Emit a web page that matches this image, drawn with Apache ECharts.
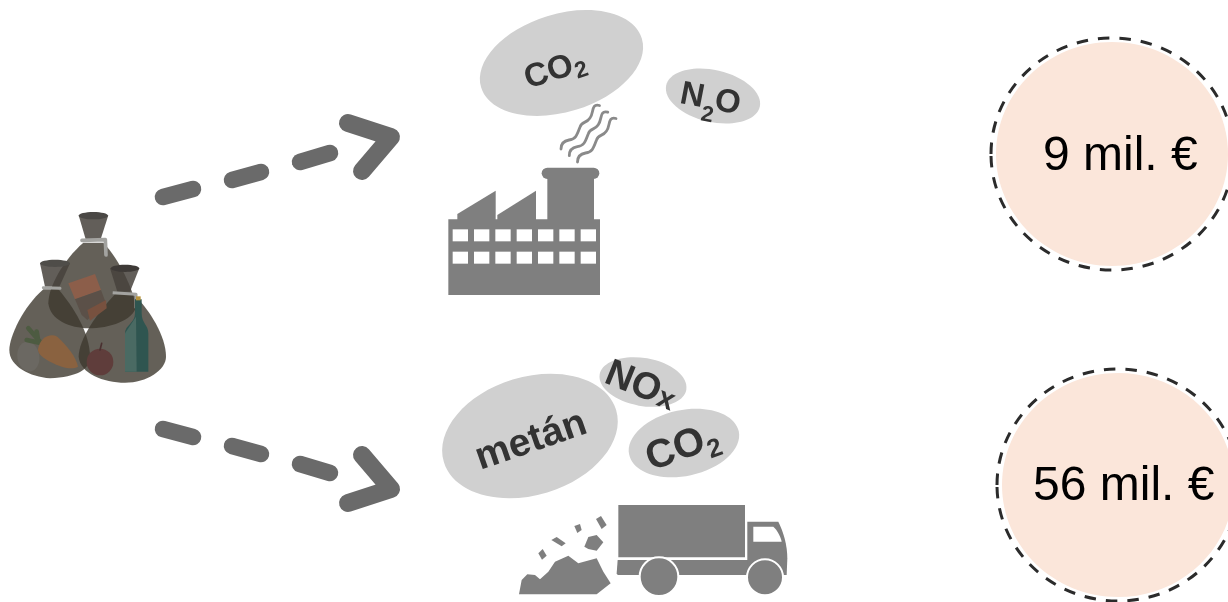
<!DOCTYPE html>
<html><head><meta charset="utf-8">
<style>html,body{margin:0;padding:0;background:#fff}#c{width:1228px;height:602px}</style>
<script src="https://cdn.jsdelivr.net/npm/echarts@6/dist/echarts.min.js"></script>
</head><body><div id="c"></div>
<script>
// content
const costLabels = ['9 mil. €', '56 mil. €'];
const incinerationGases = [['CO', '2', ''], ['N', '2', 'O']];
const landfillGases = [['metán', '', ''], ['NO', 'x', ''], ['CO', '2', '']];

const FONT = '"Liberation Sans", Arial, sans-serif';
const GREY = '#7f7f7f', BUBBLE = '#d0d0d0', INK = '#333333', ARROW = '#6a6a6a';

function line(x1, y1, x2, y2, color, w) {
  return {type:'line', shape:{x1,y1,x2,y2}, style:{stroke:color, lineWidth:w, lineCap:'round'}};
}
function poly(points, fill) { return {type:'polygon', shape:{points}, style:{fill}}; }
function pathEl(d, style) { return {type:'path', shape:{pathData:d}, style}; }
function bubble(cx, cy, rx, ry, deg) {
  return {type:'ellipse', x:cx, y:cy, rotation:deg*Math.PI/180, shape:{cx:0,cy:0,rx,ry}, style:{fill:BUBBLE}};
}
// x,y is the text's baseline origin
function txt(s, x, y, size, bold, fill) {
  return {type:'text', x, y:y-0.75*size, style:{text:s, fontFamily:FONT, fontSize:size, fontWeight:bold?'bold':'normal',
    fill:fill||INK, textAlign:'left', verticalAlign:'top'}};
}
function gas(parts, x, y, deg, size, subSize, widths) {
  const kids = [txt(parts[0], 0, 0, size, true)];
  if (parts[1]) kids.push(txt(parts[1], widths[0], widths[2], subSize, true));
  if (parts[2]) kids.push(txt(parts[2], widths[1], 0, size, true));
  return {type:'group', x, y, rotation:deg*Math.PI/180, children:kids};
}
function scaled(x, y, children) { return {type:'group', x, y, scaleX:1/3, scaleY:1/3, children}; }

function renderArrows() {
  const mk = (m) => {
    const f = (y) => m ? 626 - y : y;
    const w = 16.5;
    return [
      line(163,f(197),193,f(189),ARROW,w), line(232,f(180),261,f(172),ARROW,w), line(300,f(162),330,f(153),ARROW,w),
      {type:'polyline', shape:{points:[[348,f(123)],[391,f(137)],[362,f(171)]]},
       style:{stroke:ARROW, lineWidth:18, lineCap:'round', lineJoin:'round', fill:'none'}}
    ];
  };
  return {type:'group', children: mk(false).concat(mk(true))};
}

function renderBags() {
  const bag = 'rgba(61,56,46,0.8)', neck = 'rgba(70,66,60,0.85)', tie = '#a3a3a0';
  const k = [];
  k.push(pathEl('M250 128 C190 180 145 260 145 310 C150 360 210 385 265 385 C330 385 400 360 408 320 C400 270 360 180 310 128 Z',{fill:bag}));
  k.push(pathEl('M130 268 C70 320 28 410 28 450 C28 500 90 530 150 535 C230 530 270 510 270 470 C270 400 220 320 175 268 Z',{fill:bag}));
  k.push(pathEl('M345 283 C290 340 236 420 236 470 C240 520 310 548 375 548 C440 548 498 510 498 470 C498 410 450 330 400 283 Z',{fill:bag}));
  k.push(poly([[236,46],[325,46],[302,118],[257,118]],neck));
  k.push({type:'ellipse',shape:{cx:280,cy:47,rx:44,ry:11},style:{fill:'#4a4845'}});
  k.push(poly([[120,190],[210,190],[178,260],[135,260]],neck));
  k.push({type:'ellipse',shape:{cx:165,cy:190,rx:45,ry:11},style:{fill:'#4f4d49'}});
  k.push(poly([[330,205],[418,205],[390,275],[352,275]],neck));
  k.push({type:'ellipse',shape:{cx:375,cy:205,rx:43,ry:11},style:{fill:'#3e3a37'}});
  k.push(pathEl('M246 121 L316 119 L318 165',{stroke:tie,lineWidth:11,fill:'none',lineJoin:'round',lineCap:'round'}));
  k.push(line(130,263,180,265,tie,9));
  k.push(pathEl('M338 278 L408 283 L408 325',{stroke:tie,lineWidth:9,fill:'none',lineJoin:'round'}));
  k.push(poly([[205,250],[285,222],[303,270],[225,298]],'#8c5e4a'));
  k.push(poly([[225,298],[303,270],[318,310],[262,360],[245,345]],'#5b5048'));
  k.push(poly([[262,330],[318,300],[320,325],[270,362]],'#78513f'));
  k.push({type:'ellipse',x:85,y:470,rotation:0.15,shape:{cx:0,cy:0,rx:33,ry:45},style:{fill:'#6b6862'}});
  k.push(pathEl('M120 425 L85 385 M115 425 L110 395 M125 430 L80 420',{stroke:'#4d5b41',lineWidth:14,fill:'none',lineCap:'round'}));
  k.push(pathEl('M114 448 C120 412 150 398 172 410 C202 438 228 470 234 500 C215 510 190 505 150 485 C128 474 114 462 114 448 Z',{fill:'#8a6240'}));
  k.push({type:'circle',shape:{cx:300,cy:486,r:40},style:{fill:'#5f3d3b'}});
  k.push(pathEl('M300 450 L305 430',{stroke:'#4a3030',lineWidth:5,fill:'none',lineCap:'round'}));
  k.push(pathEl('M375 400 C375 375 405 370 405 340 L405 298 L425 298 L425 340 C425 370 445 375 445 400 L445 515 L375 515 Z',{fill:'#2f5550'}));
  k.push(poly([[375,400],[408,350],[410,515],[375,515]],'#4a6a63'));
  k.push({type:'rect',shape:{x:408,y:289,width:14,height:12},style:{fill:'#b8953f'}});
  return scaled(0,200,k);
}

function renderFactory() {
  const k = [
    {type:'rect',shape:{x:25,y:658,width:455,height:227},style:{fill:GREY}},
    poly([[52,660],[52,642],[167,572],[167,660]],GREY),
    poly([[172,660],[172,645],[288,572],[288,660]],GREY),
    {type:'rect',shape:{x:322,y:530,width:140,height:130},style:{fill:GREY}},
    {type:'rect',shape:{x:305,y:503,width:173,height:34,r:17},style:{fill:GREY}}
  ];
  [38,102,166,230,294,358,422].forEach(x => [688,755].forEach(y => {
    k.push({type:'rect',shape:{x,y,width:46,height:36},style:{fill:'#ffffff'}});
  }));
  const smoke = 'M599.5 105.5 C591 103 594 113 590 118 C586 124 582 121 580 127 C577 135 576 139 569 140 C563 141 561 144 561 149';
  const sm = [[0,0],[8.3,6.7],[16.5,13]].map(o => ({type:'path',x:o[0],y:o[1],shape:{pathData:smoke},
    style:{stroke:'#8a8a8a',lineWidth:2.8,fill:'none',lineCap:'round'}}));
  return {type:'group',children:[scaled(440,0,k)].concat(sm)};
}

function renderTruck() {
  const wheel = (cx,cy,r) => ({type:'circle',shape:{cx,cy,r},style:{fill:GREY,stroke:'#ffffff',lineWidth:6}});
  const k = [
    {type:'rect',shape:{x:535,y:480,width:380,height:157},style:{fill:GREY}},
    poly([[533,645],[925,645],[925,690],[533,690],[530,685]],GREY),
    pathEl('M922 530 L1015 530 C1030 560 1042 600 1042 640 L1040 690 L922 690 Z',{fill:GREY}),
    pathEl('M940 545 L1000 545 C1012 555 1022 575 1025 590 L940 590 Z',{fill:'#ffffff'}),
    wheel(657,695,58), wheel(975,697,54),
    poly([[237,748],[245,705],[262,688],[285,690],[300,703],[325,680],[345,650],[385,632],[415,655],[470,640],[490,680],[512,715],[470,748]],GREY),
    poly([[295,625],[308,612],[320,632],[306,644]],GREY),
    poly([[334,585],[350,576],[377,595],[365,604]],GREY),
    poly([[403,543],[420,537],[425,555],[412,564]],GREY),
    poly([[468,522],[483,513],[500,540],[485,552]],GREY),
    poly([[433,605],[445,576],[470,570],[490,592],[470,617],[445,612]],GREY)
  ];
  return scaled(440,345,k);
}

function renderBubbles() {
  return {type:'group',children:[
    bubble(561.5,63,84,49,17), bubble(713,96,48,26,-13),
    gas(incinerationGases[0],528,88,18,33,23,[50,0,6]),
    gas(incinerationGases[1],679,102,-11,33,22,[24,35,13]),
    bubble(530,436,90,59,17), bubble(643,382,44,24,-10), bubble(684,443,56,33,12),
    gas(landfillGases[0],480,469,19,39,0,[0,0,0]),
    gas(landfillGases[1],603,381,-22,38,30,[57,0,1.5]),
    gas(landfillGases[2],651,470,20,40,26,[60,0,9])
  ]};
}

function renderCosts() {
  const one = (s,cx,cy,tx,ty) => [
    {type:'ellipse',shape:{cx,cy,rx:116,ry:112},style:{fill:'#fbe6da'}},
    {type:'ellipse',shape:{cx,cy,rx:121,ry:116},style:{fill:'none',stroke:'#2b2b2b',lineWidth:3,lineDash:[11.5,10]}},
    txt(s,tx,ty,48,false,'#000000')
  ];
  return {type:'group',children:one(costLabels[0],1112,154,1043,169).concat(one(costLabels[1],1118,485,1033,499))};
}

const painters = [renderBags, renderArrows, renderFactory, renderTruck, renderBubbles, renderCosts];
const chart = echarts.init(document.getElementById('c'), null, {renderer:'canvas'});
chart.setOption({
  animation:false,
  backgroundColor:'#ffffff',
  series: painters.map(fn => ({type:'custom', coordinateSystem:'none', silent:true, clip:false, data:[0], renderItem:() => fn()}))
});
</script></body></html>
